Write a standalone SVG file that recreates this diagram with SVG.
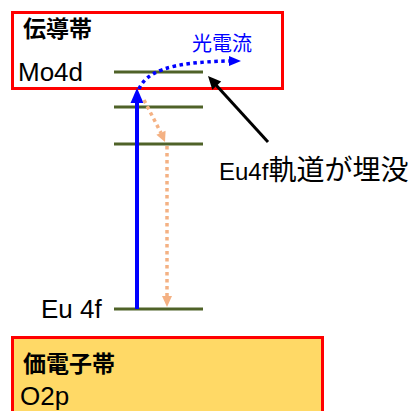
<svg xmlns="http://www.w3.org/2000/svg" width="409" height="411" viewBox="0 0 409 411">
<style>
.lvl{stroke:#4F6228;stroke-width:3;}
.band{stroke:#FF0000;stroke-width:3;}
.t{font-family:"Liberation Sans","Noto Sans CJK JP",sans-serif;fill:#000;}
.j{font-family:"Noto Sans CJK JP",sans-serif;}
.or{fill:none;stroke:#F4B183;stroke-width:3.5;stroke-dasharray:3.5 3.5;}
</style>
<g id="conduction-band">
<rect x="12.5" y="12.5" width="270" height="76" fill="#FFFFFF" class="band"/>
<text class="t j" x="23" y="37" font-size="23" font-weight="bold">伝導帯</text>
<text class="t" x="18" y="81" font-size="26">Mo4d</text>
</g>
<g id="valence-band">
<rect x="12.5" y="337.5" width="310" height="80" fill="#FFD966" class="band"/>
<text class="t j" x="23" y="372" font-size="23" font-weight="bold">価電子帯</text>
<text class="t" x="20" y="405" font-size="26">O2p</text>
</g>
<g id="levels">
<line class="lvl" x1="114" y1="72" x2="203" y2="72"/>
<line class="lvl" x1="114" y1="107" x2="203" y2="107"/>
<line class="lvl" x1="114" y1="144" x2="203" y2="144"/>
<line class="lvl" x1="114" y1="309" x2="203" y2="309"/>
<text class="t" x="41" y="318" font-size="26">Eu 4f</text>
</g>
<g id="label-buried">
<text class="t" x="219" y="180"><tspan font-size="24">Eu4f</tspan><tspan class="j" font-size="28">軌道が埋没</tspan></text>
</g>
<g id="label-photocurrent">
<text class="j" x="192" y="51" font-size="20" fill="#0000FF">光電流</text>
</g>
<g id="connectors">
<line x1="137" y1="309" x2="137" y2="100" stroke="#0000FF" stroke-width="4"/>
<polygon points="137,88 130.5,103 143.5,103" fill="#0000FF"/>
<path d="M139,89 C146,73 166,62 230,61" fill="none" stroke="#0000FF" stroke-width="3.5" stroke-dasharray="3.5 3.5"/>
<polygon points="241,61 229,56 229,66" fill="#0000FF"/>
<path class="or" d="M144,100 L161,133"/>
<polygon points="165,142 165.6,130.8 156.4,134.8" fill="#F4B183"/>
<path class="or" d="M167,146 L167,297"/>
<polygon points="167,307 162,296 172,296" fill="#F4B183"/>
<line x1="268" y1="142" x2="216" y2="85" stroke="#000" stroke-width="3"/>
<polygon points="208,76 221.2,81.6 212.3,89.7" fill="#000"/>
</g>
</svg>
